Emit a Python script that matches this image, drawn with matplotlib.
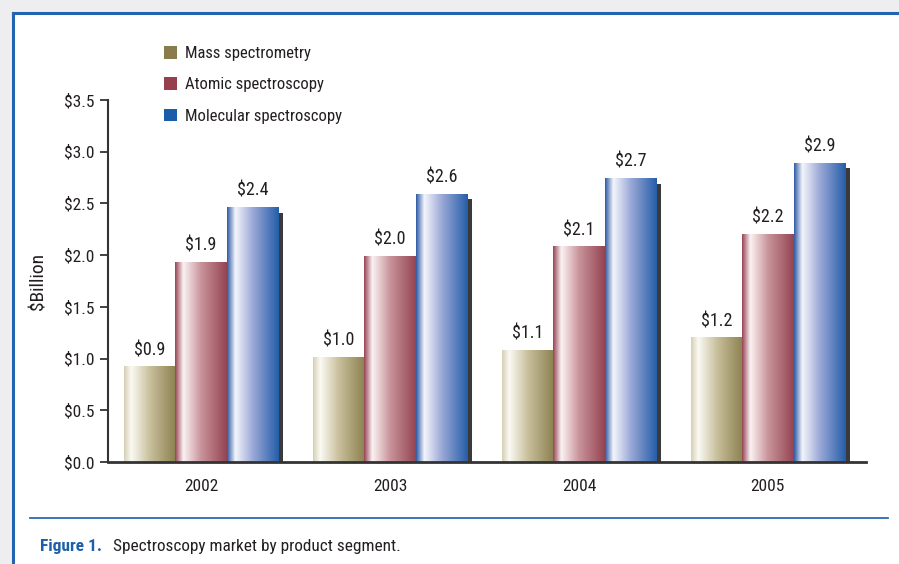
import numpy as np
import matplotlib
matplotlib.use("Agg")
import matplotlib.pyplot as plt
from matplotlib import font_manager
from matplotlib.colors import LinearSegmentedColormap
from matplotlib.patches import Rectangle, Patch
from matplotlib.lines import Line2D

# ---- data ----
years = ["2002", "2003", "2004", "2005"]
series_names = ["Mass spectrometry", "Atomic spectroscopy", "Molecular spectroscopy"]
mass = [0.92, 1.01, 1.08, 1.20]
atomic = [1.93, 1.99, 2.08, 2.20]
molecular = [2.46, 2.59, 2.74, 2.89]
mass_labels = ["$0.9", "$1.0", "$1.1", "$1.2"]
atomic_labels = ["$1.9", "$2.0", "$2.1", "$2.2"]
molecular_labels = ["$2.4", "$2.6", "$2.7", "$2.9"]
y_ticks = [0.0, 0.5, 1.0, 1.5, 2.0, 2.5, 3.0, 3.5]
y_tick_labels = ["$0.0", "$0.5", "$1.0", "$1.5", "$2.0", "$2.5", "$3.0", "$3.5"]

# ---- font ----
avail = {f.name for f in font_manager.fontManager.ttflist}
font = "DejaVu Sans"
for cand in ["Liberation Sans Narrow", "Roboto Condensed", "Open Sans Condensed", "Noto Sans", "Liberation Sans"]:
    if cand in avail:
        font = cand
        break
plt.rcParams["font.family"] = [font, "DejaVu Sans"]
plt.rcParams["text.usetex"] = False
plt.rcParams["text.parse_math"] = False

W, H = 899, 564
fig = plt.figure(figsize=(W / 100, H / 100), dpi=100)
fig.patch.set_facecolor("#eeeef1")

# white panel with blue border (left & top)
bl, bt = 13 / W, 1 - 13 / H
fig.patches.append(Rectangle((bl, 0), 1 - bl, bt, transform=fig.transFigure,
                             facecolor="white", edgecolor="none", zorder=-5))
fig.lines.append(Line2D([bl, bl], [0, bt], transform=fig.transFigure, color="#2463ad", lw=2.2, zorder=-4))
fig.lines.append(Line2D([bl, 1], [bt, bt], transform=fig.transFigure, color="#2463ad", lw=2.2, zorder=-4))

ax = fig.add_axes([108 / W, 102 / H, (866 - 108) / W, (462 - 100) / H])
ax.set_facecolor("none")
ax.set_zorder(2)

x = np.arange(len(years))
bw = 0.272
offsets = [-bw, 0.0, bw]

cmaps = [
    LinearSegmentedColormap.from_list("m", [(0, "#d6cfb6"), (0.14, "#fbfaf4"), (0.5, "#c8bf9c"), (1, "#8c8150")]),
    LinearSegmentedColormap.from_list("a", [(0, "#954353"), (0.16, "#fbf2f3"), (0.5, "#c9949b"), (1, "#944452")]),
    LinearSegmentedColormap.from_list("c", [(0, "#2d5aa5"), (0.16, "#f4f5fb"), (0.5, "#9aa8d6"), (1, "#255ea9")]),
]
legend_colors = ["#8a7d4c", "#973f4f", "#1a5da8"]
grad = np.linspace(0, 1, 256).reshape(1, -1)

data = [mass, atomic, molecular]
labels = [mass_labels, atomic_labels, molecular_labels]

px_x = 189.0  # pixels per x unit
px_y = 103.3  # pixels per y unit
for s, (vals, labs) in enumerate(zip(data, labels)):
    for i, v in enumerate(vals):
        xc = x[i] + offsets[s]
        x0 = xc - bw / 2
        # shadow
        ax.add_patch(Rectangle((x0 + 5 / px_x, 0), bw, v - 5 / px_y, facecolor="#3a3a3a",
                               edgecolor="none", zorder=1))
        ax.imshow(grad, cmap=cmaps[s], extent=(x0, x0 + bw, 0, v), aspect="auto",
                  zorder=2 + s * 0.01, interpolation="bilinear")
        ax.annotate(labs[i], (xc, v), xytext=(0, 5.5), textcoords="offset points",
                    ha="center", va="bottom", fontsize=13, color="#231f20")

ax.set_xlim(-0.492, 3.519)
ax.set_ylim(0, 3.5)
ax.set_yticks(y_ticks)
ax.set_yticklabels(y_tick_labels)
ax.set_xticks(x)
ax.set_xticklabels(years)
ax.tick_params(axis="x", length=0, pad=12, labelsize=12.5, labelcolor="#231f20")
ax.tick_params(axis="y", direction="out", length=5.5, width=1.3, color="#333333",
               pad=4, labelsize=12.5, labelcolor="#231f20")
for sp in ["top", "right"]:
    ax.spines[sp].set_visible(False)
ax.spines["left"].set_color("#333333")
ax.spines["left"].set_linewidth(1.5)
ax.spines["bottom"].set_color("#333333")
ax.spines["bottom"].set_linewidth(2.0)
ax.spines["bottom"].set_zorder(5)
ax.set_ylabel("$Billion", fontsize=14, color="#231f20", labelpad=12)

handles = [Patch(facecolor=c, edgecolor="none") for c in legend_colors]
fig.legend(handles, series_names, loc="upper left", bbox_to_anchor=(164 / W, 1 - 46 / H),
           frameon=False, fontsize=12, handlelength=0.8, handleheight=0.8,
           handletextpad=0.45, labelspacing=0.97, borderpad=0, borderaxespad=0,
           labelcolor="#231f20")

# caption
fig.lines.append(Line2D([30 / W, 888 / W], [1 - 518 / H, 1 - 518 / H], transform=fig.transFigure,
                        color="#2a6ab0", lw=1.3))
fig.text(40 / W, 1 - 547 / H, "Figure 1.", fontsize=12.5, fontweight="bold",
         color="#1d5fa8", va="center", ha="left")
fig.text(113 / W, 1 - 547 / H, "Spectroscopy market by product segment.", fontsize=12.4,
         color="#231f20", va="center", ha="left")

fig.savefig("out.png", dpi=100, facecolor=fig.get_facecolor())
